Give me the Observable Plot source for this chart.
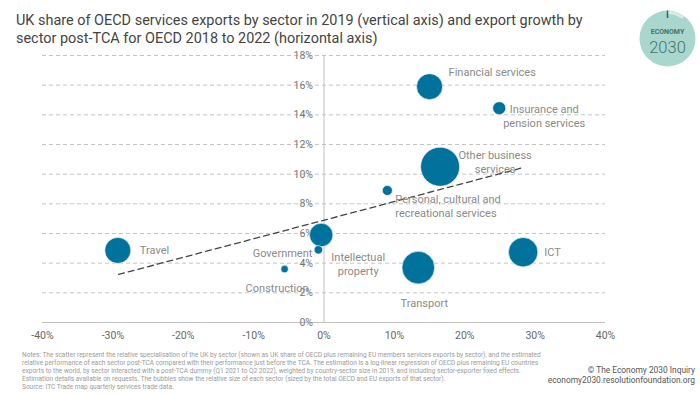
<!DOCTYPE html>
<html><head><meta charset="utf-8">
<script src="https://cdn.jsdelivr.net/npm/d3@7"></script>
<script src="https://cdn.jsdelivr.net/npm/@observablehq/plot@0.6"></script>
<style>
body{margin:0;background:#fff;}
#wrap{position:relative;width:700px;height:394px;overflow:hidden;font-family:Roboto,"Liberation Sans",sans-serif;}
#title{position:absolute;left:16px;top:12px;font-size:14.45px;line-height:18px;color:#444;white-space:nowrap;}
#chart{position:absolute;left:0;top:0;}
#notes{position:absolute;left:22px;top:350.5px;font-family:Roboto,sans-serif;font-size:7.2px;line-height:8.1px;color:#9a9a9a;white-space:nowrap;transform:scaleX(0.91);transform-origin:0 0;}
#credit{position:absolute;right:5px;top:365px;font-family:Roboto,sans-serif;font-size:8.4px;line-height:10px;color:#555;text-align:right;white-space:nowrap;}
#logo{position:absolute;left:638px;top:9px;}
</style></head>
<body>
<div id="wrap">
  <div id="title">UK share of OECD services exports by sector in 2019 (vertical axis) and export growth by<br>sector post-TCA for OECD 2018 to 2022 (horizontal axis)</div>
  <div id="chart"></div>
  <svg id="logo" width="60" height="60" viewBox="0 0 60 60">
    <circle cx="29.5" cy="29.5" r="28" fill="#a9d7ce"/>
    <path d="M29.5 3.5 A26 26 0 0 1 45 8.5" fill="none" stroke="#d5ece7" stroke-width="3"/>
    <line x1="29.5" y1="1.5" x2="29.5" y2="9" stroke="#555" stroke-width="1.5"/>
    <text x="29.5" y="25" text-anchor="middle" font-family="Roboto,sans-serif" font-size="7" font-weight="700" fill="#3f746c">ECONOMY</text>
    <text x="29.5" y="44" text-anchor="middle" font-family="Roboto,sans-serif" font-size="16.5" font-weight="300" fill="#3f746c">2030</text>
  </svg>
  <div id="notes">Notes: The scatter represent the relative specialisation of the UK by sector (shown as UK share of OECD plus remaining EU members services exports by sector), and the estimated<br>relative performance of each sector post-TCA compared with their performance just before the TCA. The estimation is a log-linear regression of OECD plus remaining EU countries<br>exports to the world, by sector interacted with a post-TCA dummy (Q1 2021 to Q2 2022), weighted by country-sector size in 2019, and including sector-exporter fixed effects.<br>Estimation details available on requests. The bubbles show the relative size of each sector (sized by the total OECD and EU exports of that sector).<br>Source: ITC Trade map quarterly services trade data.</div>
  <div id="credit">© The Economy 2030 Inquiry<br>economy2030.resolutionfoundation.org</div>
</div>
<script>
const sectors = ["Financial services","Insurance and pension services","Other business services","Personal, cultural and recreational services","ICT","Transport","Travel","Intellectual property","Government","Construction"];
const labels = ["Financial services","Insurance and\npension services","Other business\nservices","Personal, cultural and\nrecreational services","ICT","Transport","Travel","Intellectual\nproperty","Government","Construction"];
const exportGrowth = [15.0, 24.9, 16.5, 9.0, 28.3, 13.4, -29.3, -0.4, -0.8, -5.6];
const ukShare = [15.9, 14.45, 10.5, 8.9, 4.74, 3.7, 4.86, 5.9, 4.9, 3.6];
const sectorSize = [169, 42, 380, 25, 216, 266, 169, 137, 18, 14];
const trendX = [-29.2, 28.2];
const trendY = [3.24, 10.43];
const xTicks = [-40, -30, -20, -10, 0, 10, 20, 30, 40];
const yTicks = [0, 2, 4, 6, 8, 10, 12, 14, 16, 18];

// label placement (pixel offsets from bubble centre)
const labelStyle = {
  "Financial services": {dx: 19, dy: -15, anchor: "start"},
  "Insurance and pension services": {dx: 45, dy: 7.5, anchor: "middle"},
  "Other business services": {dx: 55, dy: -5.5, anchor: "middle"},
  "Personal, cultural and recreational services": {dx: 8, dy: 15.5, anchor: "start"},
  "ICT": {dx: 21, dy: -0.5, anchor: "start"},
  "Transport": {dx: 6, dy: 35, anchor: "middle"},
  "Travel": {dx: 22, dy: -0.5, anchor: "start"},
  "Intellectual property": {dx: 37, dy: 28.5, anchor: "middle"},
  "Government": {dx: -6, dy: 2.7, anchor: "end"},
  "Construction": {dx: 24, dy: 18, anchor: "end"}
};

const data = sectors.map((s, i) => ({sector: s, label: labels[i], growth: exportGrowth[i], share: ukShare[i], size: sectorSize[i]}));
const trend = trendX.map((x, i) => ({x, y: trendY[i]}));
const bubbleOrder = [...data].sort((a, b) => b.size - a.size);

const labelMarks = data.map(d => {
  const st = labelStyle[d.sector];
  return Plot.text([d], {x: "growth", y: "share", text: "label", dx: st.dx, dy: st.dy, textAnchor: st.anchor, fill: "#8a8a8a", fontSize: 11, lineHeight: 1.27});
});

const chart = Plot.plot({
  width: 700, height: 394,
  marginLeft: 42, marginRight: 95, marginTop: 55, marginBottom: 72,
  style: {fontFamily: "Roboto, 'Liberation Sans', sans-serif", background: "transparent"},
  x: {domain: [-40, 40], axis: null},
  y: {domain: [0, 18], axis: null},
  r: {domain: [0, 380], range: [0, 19.5]},
  marks: [
    Plot.ruleY(yTicks.filter(d => d > 0), {stroke: "#c4c4c4", strokeDasharray: "4,3"}),
    Plot.ruleY([0], {stroke: "#c0c0c0"}),
    Plot.ruleX([0], {y1: 0, y2: 18, stroke: "#c0c0c0"}),
    Plot.text(yTicks, {x: 0, y: d => d, text: d => d + "%", dx: -11, textAnchor: "end", fill: "#777", fontSize: 10.5}),
    Plot.text(xTicks, {x: d => d, y: 0, text: d => d + "%", dy: 13, fill: "#666", fontSize: 10.5}),
    Plot.line(trend, {x: "x", y: "y", stroke: "#444", strokeWidth: 1.3, strokeDasharray: "6,4"}),
    Plot.dot(bubbleOrder, {x: "growth", y: "share", r: "size", fill: "#00729b", stroke: "white", strokeWidth: 0.6}),
    ...labelMarks
  ]
});
document.getElementById("chart").appendChild(chart);
</script>
</body></html>
